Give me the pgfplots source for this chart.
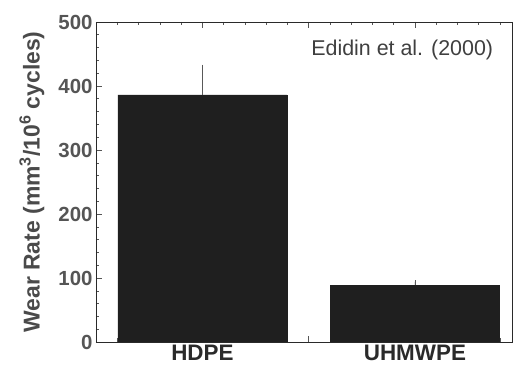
\documentclass[border=0pt]{standalone}
\usepackage{pgfplots}
\pgfplotsset{compat=1.18}
\usepackage{fontspec}
\setmainfont{Liberation Sans}
\definecolor{barc}{HTML}{1F1F1F}
\definecolor{txt}{HTML}{2A2A2A}
\begin{document}
\begin{tikzpicture}
\begin{axis}[
  scale only axis,
  width=416bp, height=320bp,
  xmin=-0.501, xmax=1.457,
  ymin=0, ymax=500,
  ytick={0,100,200,300,400,500},
  minor y tick num=4,
  xtick={0,0.5,1},
  xticklabels={HDPE,,UHMWPE},
  minor xtick={-0.4,-0.3,...,1.41},
  xtick pos=both, ytick pos=left,
  tick align=inside,
  major tick length=6bp, minor tick length=3.5bp,
  every tick/.style={draw=txt!80, line width=0.6pt},
  axis line style={draw=txt, line width=0.8pt},
  /pgf/number format/assume math mode=true,
  yticklabel style={font=\fontsize{20.5}{22}\selectfont\bfseries, text=txt!80, xshift=0bp},
  xticklabel style={font=\fontsize{22.5}{24}\selectfont\bfseries, text=txt, yshift=0bp},
  ylabel={Wear Rate (mm\textsuperscript{3}/10\textsuperscript{6} cycles)},
  ylabel style={font=\fontsize{23}{25}\selectfont\bfseries, text=txt!85,
    at={(axis description cs:-0.154,0.5)}, anchor=center, rotate=0},
  axis on top=false,
]
\addplot[ybar, bar width=169bp, fill=barc, draw=barc,
  error bars/.cd, y dir=plus, y explicit,
  error bar style={line width=0.8pt, draw=gray!70!black},
  error mark options={mark size=1.5pt, line width=0.8pt, draw=gray!70!black}]
  coordinates {(0,386) +- (0,45) (1,89) +- (0,5)};
\node[anchor=east, font=\fontsize{21.5}{23}\selectfont, text=txt!90] at (rel axis cs:0.963,0.9125) {Edidin et al. (2000)};
\end{axis}
\pgfresetboundingbox
\path[use as bounding box] ([shift={(-96bp,-27bp)}]current axis.south west) rectangle ([shift={(1bp,22bp)}]current axis.north east);
\end{tikzpicture}
\end{document}
